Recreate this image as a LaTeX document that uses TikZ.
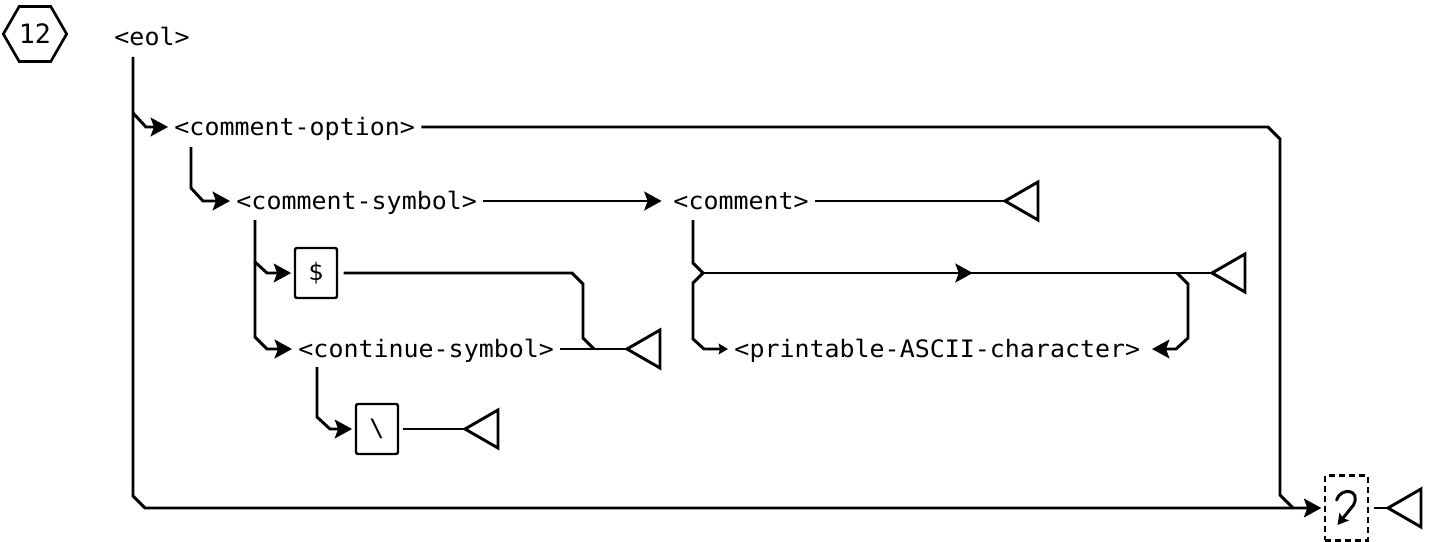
\documentclass[tikz,border=0pt]{standalone}
\usepackage{fontspec}
\newfontfamily\diagfont[FakeStretch=1.04]{DejaVu Sans Mono}
\newfontfamily\numfont{DejaVu Sans Mono}
\usetikzlibrary{arrows.meta,shapes.geometric,decorations.markings}

\begin{document}
\begin{tikzpicture}[x=0.75pt,y=-0.75pt,
  line width=2.2pt,
  lbl/.style={font=\diagfont\fontsize{18pt}{21pt}\selectfont,
    inner xsep=3.75pt, inner ysep=0pt, text height=13.1pt, text depth=0pt, anchor=west},
  kbox/.style={draw, line width=1.8pt, rounded corners=1.5pt, minimum width=31.5pt,
    minimum height=37.5pt, inner sep=0pt, font=\diagfont\fontsize{18pt}{21pt}\selectfont},
  arr/.style={-{Stealth[length=13pt,width=14pt,inset=2.5pt]}},
  smallarr/.style={-{Stealth[length=7pt,width=8pt,inset=1pt]}},
  midarr/.style={postaction={decorate},
    decoration={markings, mark=at position 0.53 with {\arrow{Stealth[length=13pt,width=14pt,inset=2.5pt]}}}},
  term/.pic={\draw[line width=2.2pt, line join=miter] (0,0) -- (33,-19) -- (33,19) -- cycle;}
]
\useasboundingbox (0,0) rectangle (1434,542);

% number badge and rule name
\node[draw, line width=2pt, regular polygon, regular polygon sides=6, minimum size=47.5pt,
      inner sep=0pt, font=\numfont\fontsize{20pt}{22pt}\selectfont] (hex) at (35,34) {12};
\node[lbl] (eol) at (108,37) {<eol>};

% syntax elements
\node[lbl] (copt)    at (168,127) {<comment-option>};
\node[lbl] (csym)    at (230,201) {<comment-symbol>};
\node[lbl] (comment) at (667,201) {<comment>};
\node[kbox] (dollar) at (316,273) {\$};
\node[lbl] (cont)    at (292,349) {<continue-symbol>};
\node[lbl] (pac)     at (728,349) {<printable-ASCII-character>};
\node[kbox] (bs)     at (377,429) {\textbackslash};
\node[draw, dashed, dash pattern=on 4.5pt off 3pt, line width=1.8pt,
      minimum width=32pt, minimum height=48.5pt, inner sep=0pt] (ret) at (1346.5,508) {};
\draw[line width=2.2pt, line cap=round, -{Stealth[length=8pt,width=9pt,inset=1.5pt]}]
  ([shift={(-10,-8)}]ret.center) .. controls ([shift={(-6,-21)}]ret.center)
  and ([shift={(15,-19)}]ret.center) .. ([shift={(7,-3)}]ret.center)
  -- ([shift={(-9,17)}]ret.center);

% terminators
\coordinate (t1) at (1005,201);
\coordinate (t2) at (627,349);
\coordinate (t3) at (465,429);
\coordinate (t4) at (1212,273);
\coordinate (t5) at (1388,508);
\foreach \t in {t1,t2,t3,t4,t5} \pic at (\t) {term};

% branch points
\coordinate (mtop) at (133,57);
\coordinate (b1) at (133,113);
\coordinate (b2) at (191,147);
\coordinate (b3) at (255,220);
\coordinate (b3m) at (255,262);
\coordinate (b4) at (317,367);
\coordinate (b5) at (693,220);
\coordinate (sp) at (703,273);
\coordinate (lp) at (1177,273);

% main line and bypass to the end of line
\draw[arr, shorten >=2pt] (mtop) -- (133,496) -- (145,508) -- (ret.west);
\draw[arr] (b1) -- (146,127) -- (copt.west);
\draw (copt.east) -- (1268,127) -- (1280,139) -- (1280,495) -- (1293,508);
\draw[shorten <=4pt] (ret.east) -- (t5);

% comment option
\draw[arr] (b2) -- (191,188) -- (203,201) -- (csym.west);
\draw[arr, shorten >=4pt] (csym.east) -- (comment.west);
\draw (comment.east) -- (t1);

% comment symbol alternatives
\draw[arr, shorten >=2pt] (b3) -- (b3m) -- (267,273) -- (dollar.west);
\draw[arr] (b3m) -- (255,337) -- (267,349) -- (cont.west);
\draw[shorten <=4pt] (dollar.east) -- (572,273) -- (583,284) -- (583,338) -- (594,349);
\draw (cont.east) -- (t2);
\draw[arr, shorten >=2pt] (b4) -- (317,417) -- (330,429) -- (bs.west);
\draw[shorten <=3pt] (bs.east) -- (t3);

% comment text loop
\draw[smallarr] (b5) -- (693,263) -- (sp) -- (693,283) -- (693,339) -- (704,349) -- (pac.west);
\draw[midarr] (sp) -- (t4);
\draw[arr, shorten >=4pt] (lp) -- (1188,284) -- (1188,338) -- (1176,349) -- (pac.east);
\end{tikzpicture}
\end{document}
